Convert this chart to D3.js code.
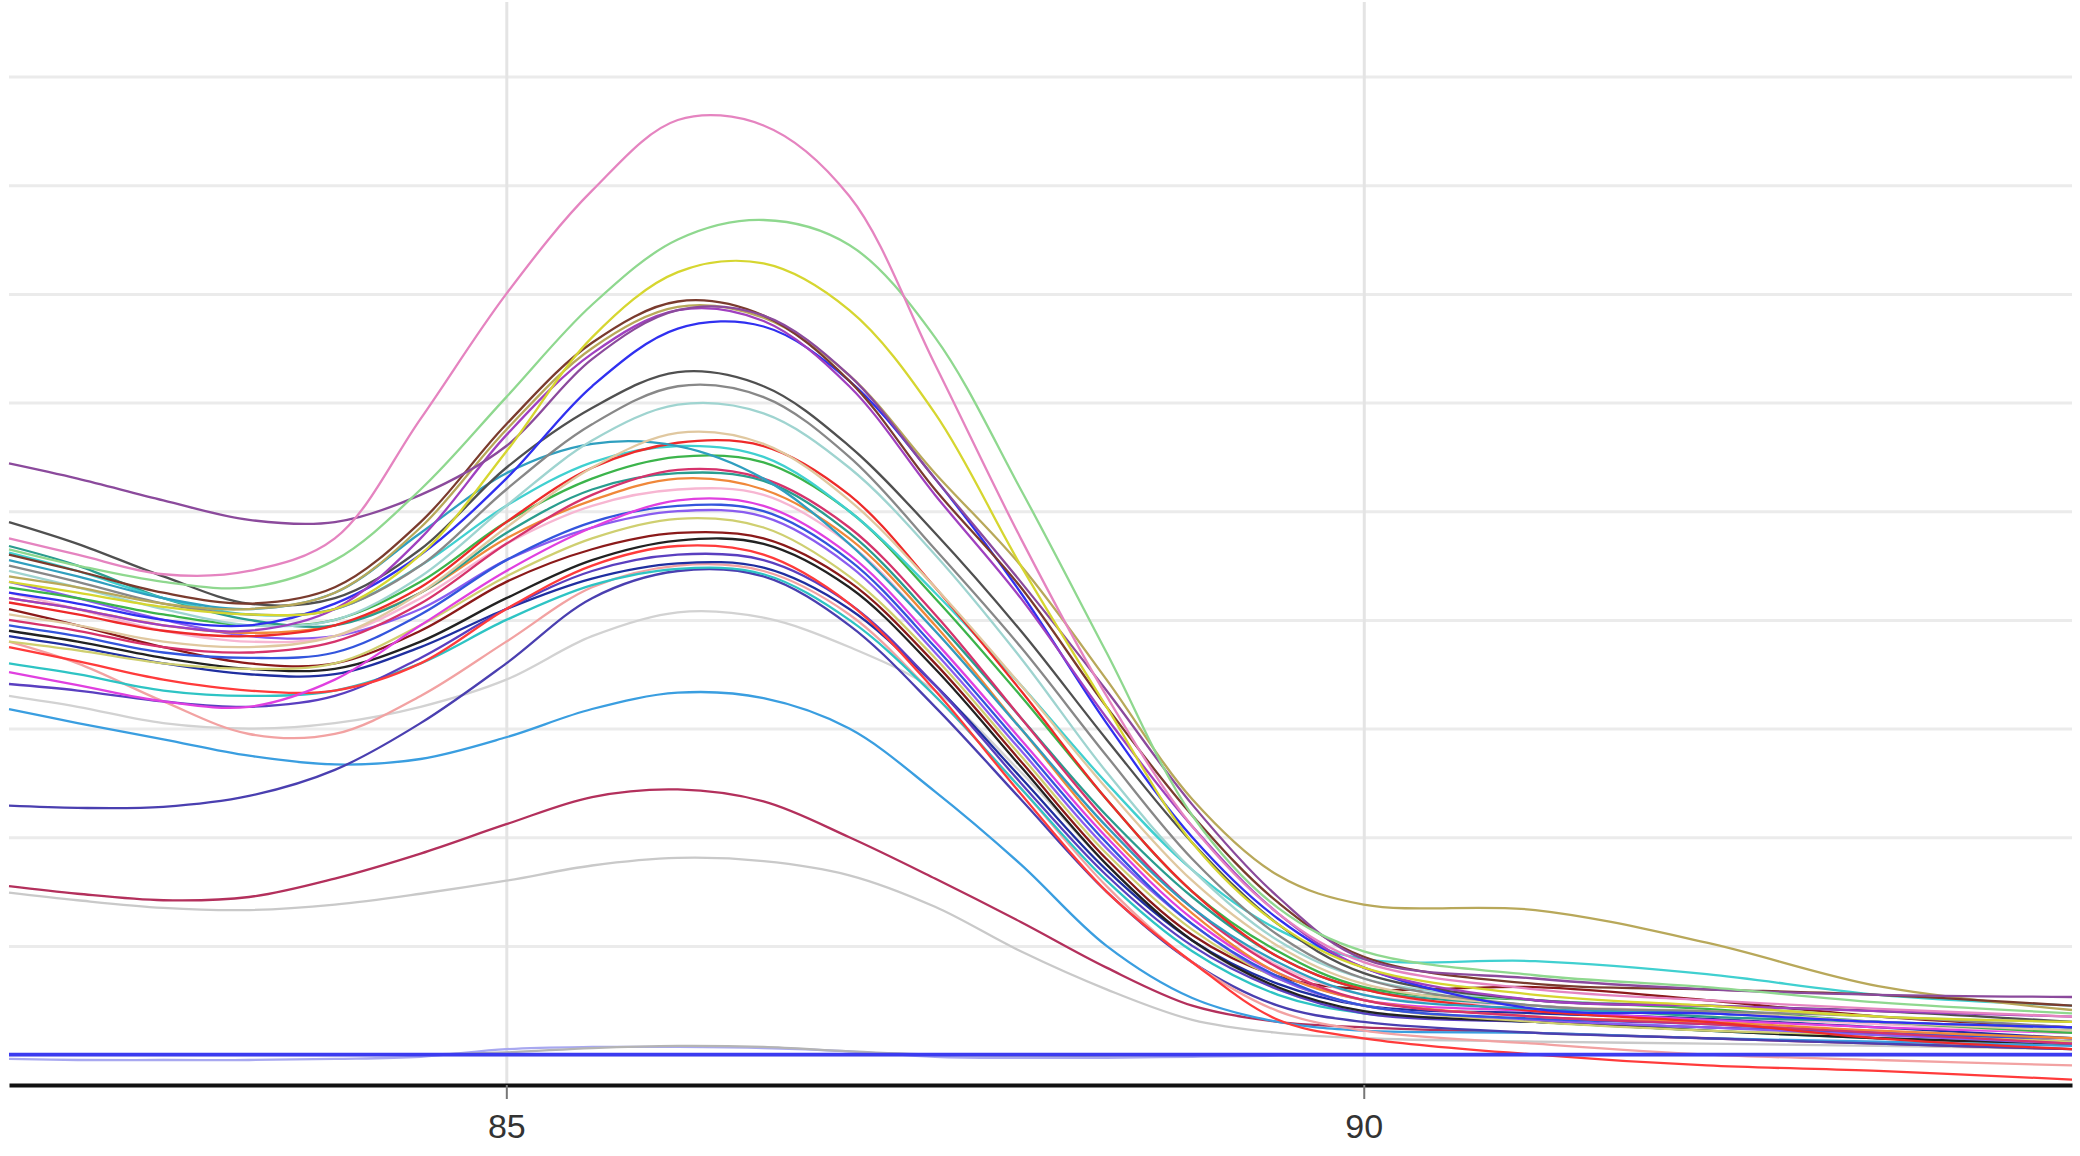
<!DOCTYPE html>
<html>
<head>
<meta charset="utf-8">
<script src="https://cdn.jsdelivr.net/npm/d3@7"></script>
<style>
  body { margin: 0; background: #fff; }
  svg { display: block; }
</style>
</head>
<body>
<div id="chart"></div>
<script>
// melt peaks, -dF/dT (y has no labels, one gridline = 1 unit)
const temps = [82.1, 82.5, 83, 83.5, 84, 84.5, 85, 85.5, 86, 86.5, 87, 87.5, 88, 88.5, 89, 89.5, 90, 91, 92, 93, 94.13];
const xTicks = [85, 90];
const yGrid = [0, 1, 2, 3, 4, 5, 6, 7, 8, 9];

// low curves first, the bundle, then the tall ones
const curve01 = [1.49, 1.42, 1.35, 1.33, 1.38, 1.48, 1.6, 1.74, 1.81, 1.78, 1.65, 1.36, 0.95, 0.6, 0.32, 0.2, 0.15, 0.12, 0.1, 0.08, 0.05];
const curve02 = [1.55, 1.48, 1.42, 1.45, 1.62, 1.85, 2.12, 2.37, 2.44, 2.33, 2.0, 1.62, 1.22, 0.8, 0.45, 0.3, 0.25, 0.2, 0.15, 0.1, 0.05];
const curve03 = [3.18, 3.05, 2.9, 2.75, 2.67, 2.72, 2.92, 3.18, 3.33, 3.28, 3.0, 2.42, 1.75, 1.0, 0.52, 0.3, 0.22, 0.2, 0.15, 0.12, 0.08];
const curve04 = [3.3, 3.2, 3.05, 3.0, 3.05, 3.2, 3.45, 3.85, 4.07, 4.02, 3.75, 3.35, 2.6, 1.75, 1.05, 0.6, 0.4, 0.3, 0.25, 0.2, 0.12];
const curve05 = [2.29, 2.27, 2.28, 2.38, 2.62, 3.05, 3.6, 4.2, 4.45, 4.4, 3.95, 3.2, 2.35, 1.5, 0.85, 0.45, 0.3, 0.2, 0.15, 0.1, 0.05];
const curve06 = [3.8, 3.6, 3.25, 2.95, 2.95, 3.3, 3.8, 4.3, 4.5, 4.45, 4.05, 3.3, 2.45, 1.55, 0.85, 0.4, 0.22, 0.1, 0.0, -0.05, -0.1];
const curve07 = [3.6, 3.5, 3.35, 3.3, 3.35, 3.6, 4.0, 4.32, 4.47, 4.42, 4.0, 3.3, 2.45, 1.6, 0.95, 0.55, 0.38, 0.3, 0.22, 0.15, 0.1];
const curve08 = [3.85, 3.75, 3.6, 3.5, 3.5, 3.75, 4.1, 4.38, 4.52, 4.48, 4.1, 3.4, 2.55, 1.7, 1.05, 0.65, 0.45, 0.38, 0.33, 0.25, 0.15];
const curve09 = [3.41, 3.35, 3.25, 3.2, 3.3, 3.65, 4.1, 4.45, 4.6, 4.55, 4.15, 3.4, 2.5, 1.65, 1.0, 0.6, 0.38, 0.3, 0.25, 0.2, 0.12];
const curve10 = [3.75, 3.62, 3.45, 3.35, 3.35, 3.6, 4.1, 4.5, 4.68, 4.6, 4.15, 3.35, 2.4, 1.5, 0.85, 0.32, 0.15, 0.0, -0.1, -0.15, -0.23];
const curve11 = [3.9, 3.8, 3.65, 3.55, 3.55, 3.8, 4.2, 4.55, 4.73, 4.7, 4.3, 3.55, 2.65, 1.75, 1.05, 0.62, 0.4, 0.3, 0.22, 0.15, 0.1];
const curve12 = [4.1, 3.95, 3.75, 3.6, 3.6, 3.9, 4.35, 4.65, 4.8, 4.75, 4.35, 3.6, 2.7, 1.8, 1.1, 0.72, 0.6, 0.62, 0.5, 0.35, 0.25];
const curve13 = [3.8, 3.72, 3.6, 3.55, 3.6, 3.95, 4.4, 4.75, 4.93, 4.85, 4.4, 3.65, 2.75, 1.85, 1.15, 0.7, 0.45, 0.3, 0.22, 0.18, 0.12];
const curve14 = [4.35, 4.2, 4.0, 3.85, 3.85, 4.1, 4.55, 4.85, 5.0, 4.95, 4.5, 3.7, 2.8, 1.9, 1.2, 0.7, 0.45, 0.32, 0.25, 0.18, 0.1];
const curve15 = [3.95, 3.85, 3.7, 3.65, 3.7, 4.05, 4.55, 4.9, 5.05, 5.0, 4.55, 3.75, 2.85, 1.95, 1.2, 0.72, 0.45, 0.33, 0.28, 0.2, 0.15];
const curve16 = [3.52, 3.4, 3.25, 3.2, 3.45, 3.95, 4.45, 4.85, 5.1, 5.05, 4.6, 3.8, 2.9, 2.0, 1.25, 0.75, 0.5, 0.4, 0.32, 0.25, 0.2];
const curve17 = [4.25, 4.1, 3.9, 3.8, 3.85, 4.2, 4.7, 5.05, 5.2, 5.15, 4.7, 3.9, 3.0, 2.1, 1.35, 0.82, 0.55, 0.45, 0.35, 0.28, 0.2];
const curve18 = [4.2, 4.1, 3.95, 3.88, 3.95, 4.25, 4.75, 5.1, 5.3, 5.2, 4.75, 3.95, 3.0, 2.05, 1.3, 0.75, 0.5, 0.35, 0.3, 0.22, 0.15];
const curve19 = [4.68, 4.5, 4.2, 4.0, 3.95, 4.25, 4.8, 5.2, 5.35, 5.28, 4.8, 4.0, 3.1, 2.2, 1.45, 0.9, 0.6, 0.45, 0.35, 0.3, 0.22];
const curve20 = [4.0, 3.9, 3.75, 3.7, 3.8, 4.15, 4.7, 5.15, 5.38, 5.3, 4.85, 4.05, 3.1, 2.15, 1.35, 0.8, 0.5, 0.35, 0.28, 0.2, 0.1];
const curve21 = [4.3, 4.2, 4.05, 3.95, 4.0, 4.35, 4.9, 5.3, 5.5, 5.45, 5.0, 4.2, 3.3, 2.35, 1.5, 0.95, 0.62, 0.5, 0.42, 0.3, 0.2];
const curve22 = [4.62, 4.45, 4.2, 4.05, 4.1, 4.5, 5.05, 5.45, 5.6, 5.5, 5.0, 4.25, 3.4, 2.5, 1.7, 1.15, 0.88, 0.86, 0.74, 0.55, 0.45];
const curve23 = [4.16, 4.05, 3.9, 3.85, 3.95, 4.3, 4.9, 5.4, 5.63, 5.6, 5.15, 4.3, 3.35, 2.35, 1.5, 0.9, 0.6, 0.4, 0.3, 0.15, 0.05];
const curve24 = [4.55, 4.4, 4.2, 4.1, 4.25, 4.8, 5.35, 5.62, 5.6, 5.3, 4.7, 3.9, 3.0, 2.1, 1.35, 0.85, 0.55, 0.42, 0.38, 0.3, 0.25];
const curve25 = [4.05, 3.95, 3.8, 3.75, 3.85, 4.25, 4.85, 5.4, 5.72, 5.62, 5.1, 4.3, 3.4, 2.45, 1.6, 1.0, 0.65, 0.45, 0.4, 0.3, 0.22];
const curve26 = [4.45, 4.3, 4.1, 3.95, 4.0, 4.4, 5.05, 5.65, 5.98, 5.9, 5.4, 4.6, 3.65, 2.6, 1.7, 1.05, 0.7, 0.5, 0.45, 0.35, 0.3];
const curve27 = [4.5, 4.35, 4.15, 4.05, 4.1, 4.5, 5.2, 5.8, 6.15, 6.05, 5.5, 4.65, 3.75, 2.75, 1.8, 1.1, 0.7, 0.45, 0.4, 0.35, 0.25];
const curve28 = [4.9, 4.7, 4.4, 4.15, 4.2, 4.65, 5.4, 5.95, 6.28, 6.15, 5.6, 4.8, 3.9, 2.9, 1.95, 1.2, 0.75, 0.5, 0.45, 0.4, 0.3];
const curve29 = [4.25, 4.15, 4.0, 3.95, 4.15, 4.6, 5.3, 6.15, 6.68, 6.7, 6.2, 5.3, 4.25, 3.05, 2.0, 1.25, 0.8, 0.42, 0.38, 0.3, 0.25];
const curve30 = [4.2, 4.1, 3.95, 3.9, 4.1, 4.75, 5.7, 6.45, 6.85, 6.75, 6.15, 5.15, 4.2, 3.1, 2.1, 1.3, 0.8, 0.5, 0.45, 0.4, 0.35];
const curve31 = [4.4, 4.3, 4.15, 4.1, 4.25, 4.85, 5.75, 6.5, 6.88, 6.78, 6.25, 5.35, 4.5, 3.45, 2.35, 1.65, 1.38, 1.33, 1.03, 0.63, 0.41];
const curve32 = [4.6, 4.45, 4.25, 4.15, 4.3, 4.9, 5.8, 6.55, 6.93, 6.8, 6.2, 5.2, 4.3, 3.2, 2.2, 1.4, 0.9, 0.65, 0.6, 0.55, 0.45];
const curve33 = [5.44, 5.3, 5.1, 4.92, 4.9, 5.15, 5.6, 6.4, 6.85, 6.8, 6.25, 5.3, 4.35, 3.35, 2.3, 1.45, 0.88, 0.7, 0.6, 0.55, 0.53];
const curve34 = [4.35, 4.25, 4.12, 4.05, 4.1, 4.6, 5.55, 6.6, 7.2, 7.28, 6.85, 5.9, 4.5, 3.2, 1.95, 1.2, 0.8, 0.55, 0.45, 0.35, 0.3];
const curve35 = [4.65, 4.5, 4.35, 4.3, 4.55, 5.2, 6.05, 6.9, 7.5, 7.68, 7.45, 6.6, 5.2, 3.7, 2.2, 1.35, 0.95, 0.73, 0.62, 0.48, 0.38];
const curve36 = [4.75, 4.6, 4.42, 4.45, 4.75, 5.85, 7.0, 7.95, 8.6, 8.55, 7.9, 6.35, 4.75, 3.3, 2.1, 1.3, 0.85, 0.6, 0.5, 0.42, 0.35];
// no-template controls, flat near zero
const curve37 = [-0.04, -0.05, -0.05, -0.05, -0.04, -0.02, 0.05, 0.07, 0.07, 0.06, 0.03, -0.02, -0.03, -0.03, -0.02, -0.01, 0.0, 0.0, 0.0, 0.0, 0.0];
const curve38 = [0.0, 0.0, 0.0, 0.0, 0.0, 0.0, 0.02, 0.06, 0.08, 0.07, 0.03, 0.0, -0.01, -0.01, 0.0, 0.0, 0.0, 0.0, 0.0, 0.0, 0.0];
const curve39 = [0.0, 0.0, 0.0, 0.0, 0.0, 0.0, 0.0, 0.0, 0.0, 0.0, 0.0, 0.0, 0.0, 0.0, 0.0, 0.0, 0.0, 0.0, 0.0, 0.0, 0.0];

const series = [curve01, curve02, curve03, curve04, curve05, curve06, curve07, curve08, curve09, curve10,
    curve11, curve12, curve13, curve14, curve15, curve16, curve17, curve18, curve19, curve20,
    curve21, curve22, curve23, curve24, curve25, curve26, curve27, curve28, curve29, curve30,
    curve31, curve32, curve33, curve34, curve35, curve36, curve37, curve38, curve39];

const lineColors = ['#c9c9c9', '#b3305c', '#3a9ee0', '#d2d2d2', '#4a3fb0', '#f2a2a2', '#2ec4c4', '#1f2fa0', '#5a3fc0', '#ff3b3b',
    '#222222', '#8b1a1a', '#cfcf70', '#8a5cf0', '#3355dd', '#e040e0', '#f7b6d2', '#f0883a', '#2a9d8f', '#d6336c',
    '#3cb44b', '#40d0d0', '#ee2a2a', '#2f9fbf', '#e0c8a0', '#9fd4d0', '#888888', '#505050', '#3030f0', '#a040c0',
    '#b8a85a', '#7a3b2e', '#8b4a9c', '#d6d630', '#8fd88f', '#e584c0', '#a8a8f0', '#b4b4b4', '#3b3bf0'];

const width = 2080,
    height = 1156,
    plotLeft = 9,
    plotRight = 2072,
    plotTop = 7,
    axisY = 1085;

let svg = d3.select('#chart')
    .append('svg')
    .attr('width', width)
    .attr('height', height);

let x = d3.scaleLinear().domain([82.1, 94.13]).range([plotLeft, plotRight]);
let y = d3.scaleLinear().domain([-0.28, 9.64]).range([axisY, plotTop]);

// horizontal gridlines
let gridY = svg.append('g')
    .attr('transform', `translate(${plotLeft},0)`)
    .call(d3.axisLeft(y).tickValues(yGrid).tickSize(-(plotRight - plotLeft)).tickFormat(''));
gridY.select('.domain').remove();
gridY.selectAll('line').attr('stroke', '#ebebeb').attr('stroke-width', 3);

// vertical gridlines
let gridX = svg.append('g')
    .attr('transform', `translate(0,${axisY})`)
    .call(d3.axisBottom(x).tickValues(xTicks).tickSize(-(axisY - 2)).tickFormat(''));
gridX.select('.domain').remove();
gridX.selectAll('line').attr('stroke', '#e4e4e4').attr('stroke-width', 3);

let line = d3.line()
    .x((d, i) => x(temps[i]))
    .y(d => y(d))
    .curve(d3.curveCatmullRom.alpha(0.5));

svg.append('g')
    .selectAll('path')
    .data(series)
    .join('path')
    .attr('d', d => line(d))
    .attr('fill', 'none')
    .attr('stroke', (d, i) => lineColors[i])
    .attr('stroke-width', (d, i) => i === series.length - 1 ? 3.8 : 2.3)
    .attr('stroke-linejoin', 'round');

// x axis
let xAxis = svg.append('g')
    .attr('transform', `translate(0,${axisY})`)
    .call(d3.axisBottom(x).tickValues(xTicks).tickSize(14).tickSizeOuter(0).tickPadding(15));
xAxis.select('.domain').attr('stroke', '#111').attr('stroke-width', 4);
xAxis.selectAll('.tick line').attr('stroke', '#777').attr('stroke-width', 2);
xAxis.selectAll('text')
    .attr('fill', '#333')
    .style('font-family', '"Liberation Sans", Arial, sans-serif')
    .style('font-size', '34px');
</script>
</body>
</html>
